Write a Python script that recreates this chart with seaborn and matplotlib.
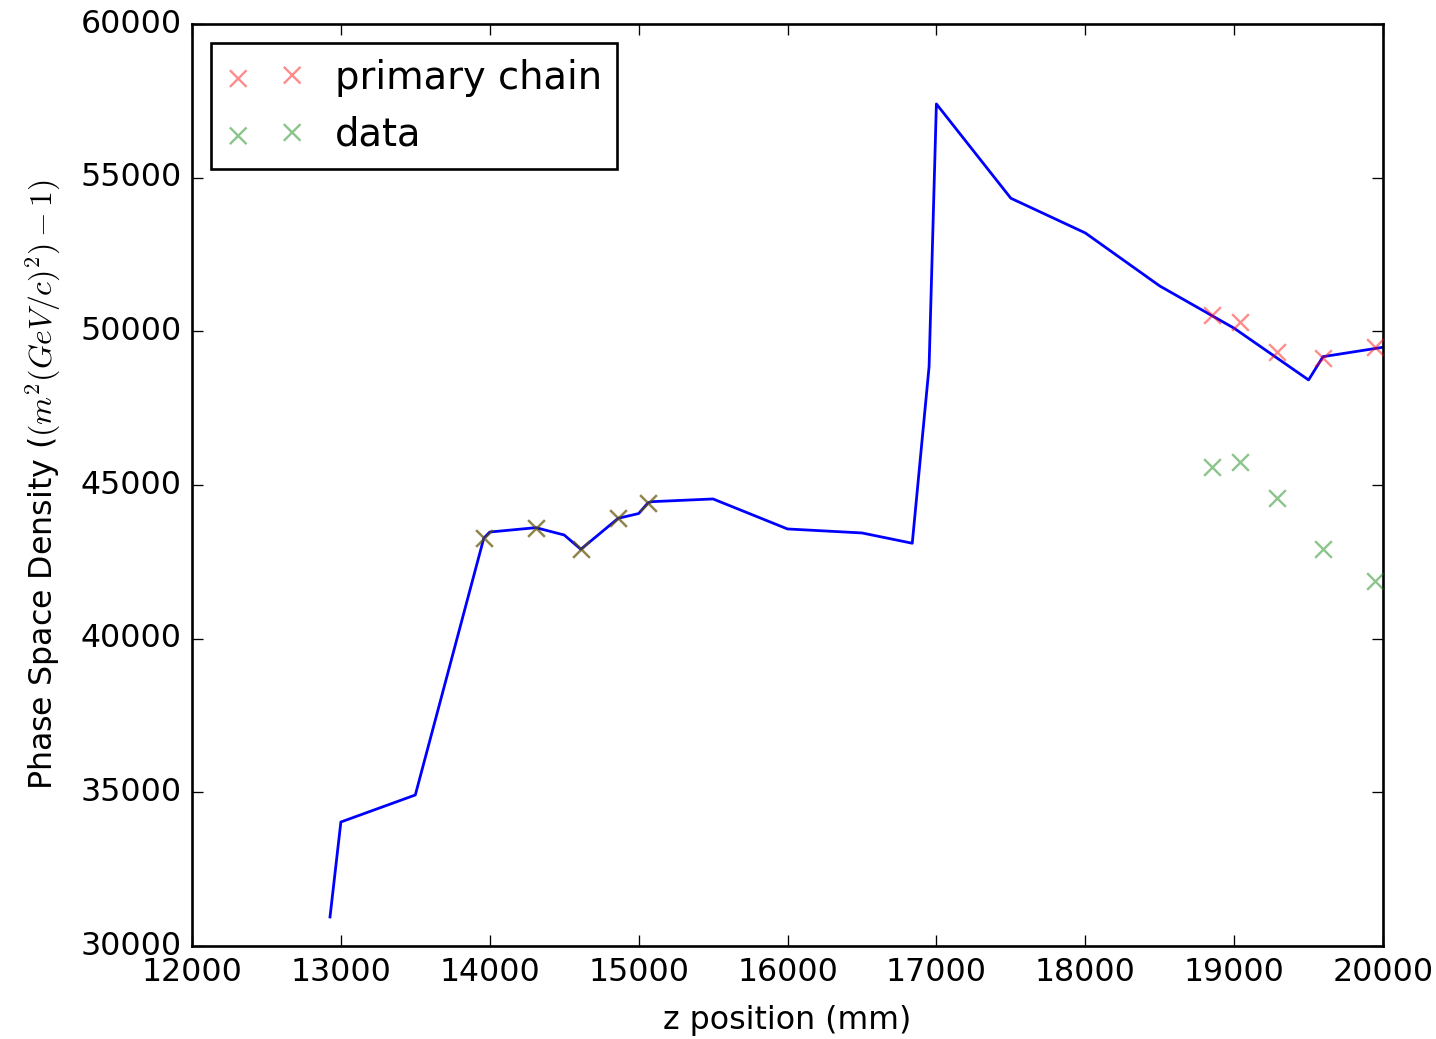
import matplotlib
matplotlib.use("Agg")
import matplotlib.pyplot as plt
import seaborn as sns
import numpy as np

#-------------------------------
# primary chain curve
z_line = [12927, 13000, 13500, 13960, 14000, 14310, 14500, 14612, 14863, 15000,
          15064, 15090, 15500, 16000, 16500, 16838, 16951, 17000, 17500, 18000,
          18500, 19000, 19500, 19597, 20000]
dens_line = [30944, 34035, 34914, 43270, 43470, 43612, 43374, 42909, 43918, 44071,
             44425, 44458, 44546, 43570, 43440, 43105, 48852, 57400, 54331, 53202,
             51477, 50101, 48419, 49176, 49482]

# marker positions
z_pts = [13960, 14310, 14612, 14863, 15064, 18848, 19040, 19287, 19597, 19946]
dens_primary = [43270, 43612, 42909, 43918, 44425, 50533, 50316, 49339, 49144, 49482]
dens_data = [43270, 43612, 42909, 43918, 44425, 45597, 45760, 44571, 42906, 41888]
#-------------------------------

plt.style.use('classic')
plt.rcParams['mathtext.fontset'] = 'cm'

DPI = 190
fig = plt.figure(figsize=(1436 / DPI, 1039 / DPI), dpi=DPI)
ax = fig.add_axes([0.1337, 0.0895, 0.8294, 0.8874])

sns.lineplot(x=z_line, y=dens_line, color='b', sort=False, estimator=None, lw=1.05, ax=ax)
sns.scatterplot(x=z_pts, y=dens_primary, color='r', marker='x', s=40, linewidth=0.9,
                alpha=0.45, label='primary chain', ax=ax, zorder=3)
sns.scatterplot(x=z_pts, y=dens_data, color='g', marker='x', s=40, linewidth=0.9,
                alpha=0.45, label='data', ax=ax, zorder=3)

ax.set_xlim(12000, 20000)
ax.set_ylim(30000, 60000)
ax.set_xlabel('z position (mm)', labelpad=6.5)
ax.set_ylabel(r'Phase Space Density ($(m^2(GeV/c)^2) - 1)$', labelpad=7)
ax.legend(loc='upper left', scatterpoints=2, fontsize=14.6, frameon=True, fancybox=False)

fig.savefig('out.png', dpi=DPI)
